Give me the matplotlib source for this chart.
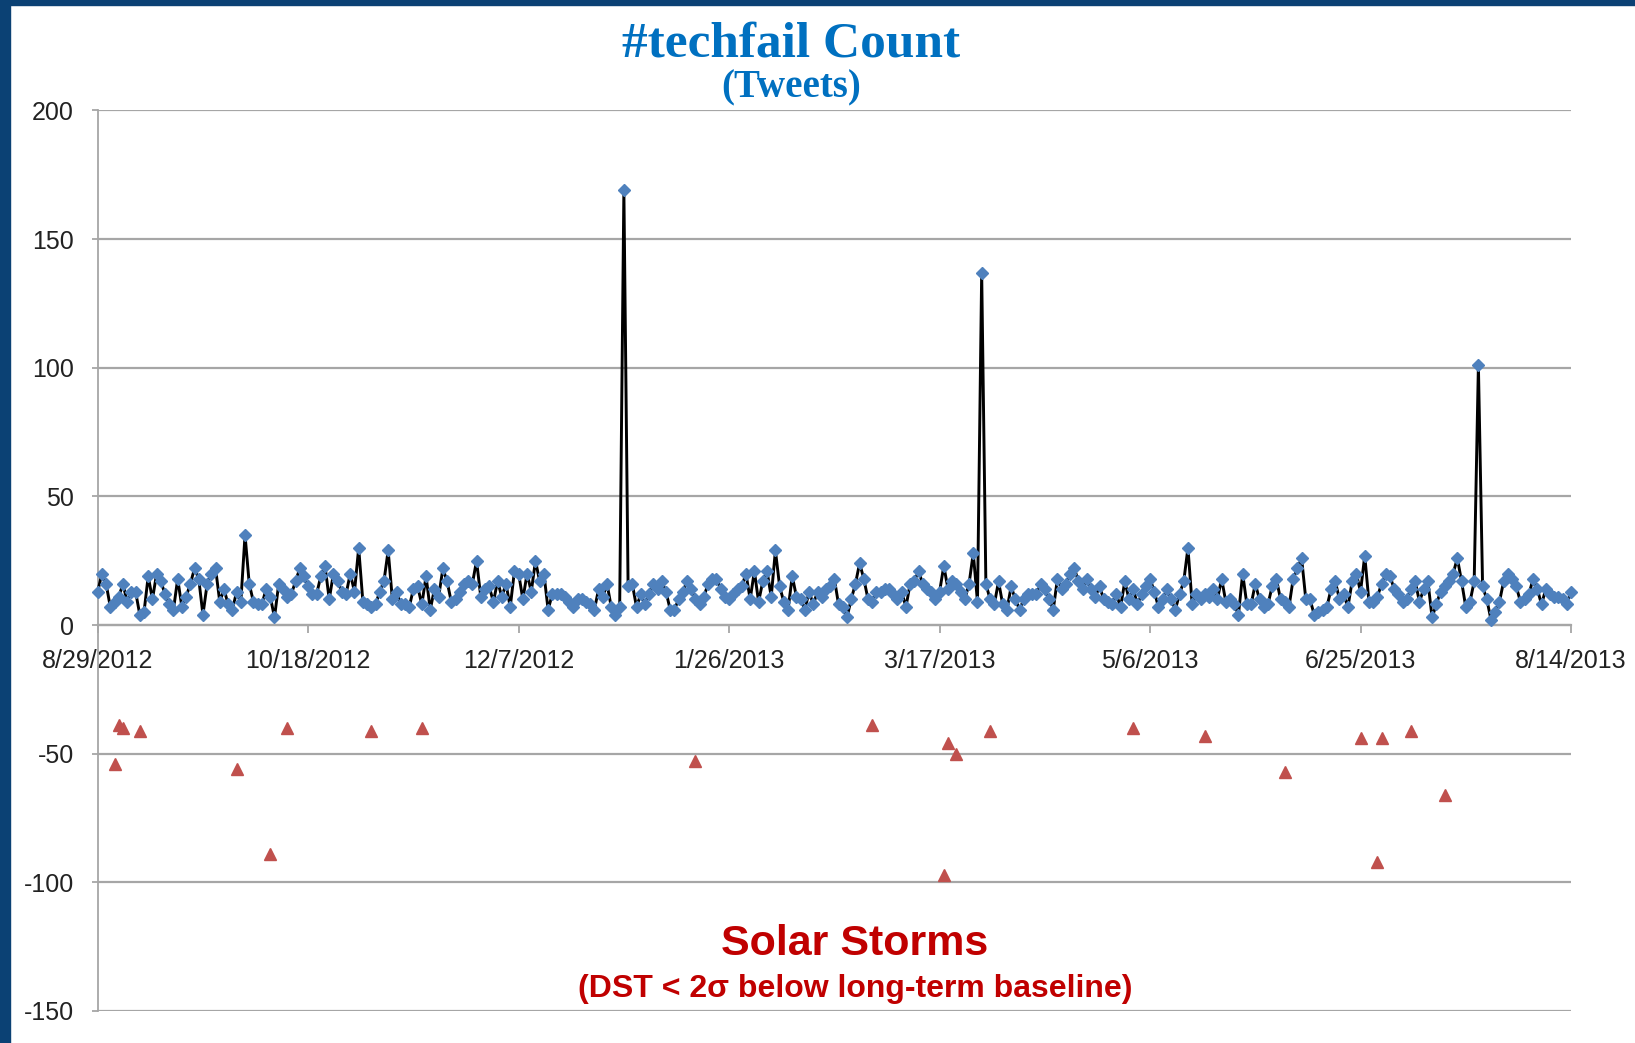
import numpy as np
import pandas as pd
import matplotlib
matplotlib.use("Agg")
import matplotlib.pyplot as plt
from matplotlib.patches import Rectangle

plt.rcParams['axes.unicode_minus'] = False

# daily #techfail tweet counts, 8/29/2012 .. 8/14/2013
tweets = [
    13, 20, 16, 7, 9, 11, 16, 9, 13, 13, 4, 5, 19, 10, 20, 17, 12, 8, 6, 18,
    7, 11, 16, 22, 18, 4, 16, 20, 22, 9, 14, 8, 6, 13, 9, 35, 16, 9, 8, 8,
    14, 11, 3, 16, 14, 11, 12, 17, 22, 19, 15, 12, 12, 19, 23, 10, 20,
    17, 13, 12, 20, 13, 30, 9, 8, 7, 8, 13, 17, 29, 10, 13, 8, 8, 7, 14, 15,
    8, 19, 6, 14, 11, 22, 17, 9, 10, 13, 16, 17, 16, 25, 11, 14, 15, 9, 17, 11,
    16, 7, 21, 20, 10, 20, 13, 25, 17, 20, 6, 12, 12, 12, 11, 9, 7,
    10, 10, 9, 8, 6, 14, 11, 16, 7, 4, 7, 169, 15, 16, 7, 12, 8, 12, 16, 14,
    17, 13, 6, 6, 10, 13, 17, 14, 10, 8, 11, 16, 18, 18, 14, 11, 10, 12, 14, 15,
    20, 10, 21, 9, 17, 21, 11, 29, 15, 9, 6, 19, 11, 10, 6, 13, 8, 13,
    11, 14, 15, 18, 8, 7, 3, 10, 16, 24, 18, 10, 9, 13, 13, 14, 14, 12, 10, 13, 7,
    16, 17, 21, 16, 14, 13, 10, 13, 23, 14, 17, 16, 13, 10, 16, 28, 9, 137, 16, 10,
    8, 17, 8, 6, 15, 10, 6, 10, 12, 12, 12, 16, 14, 10, 6, 18,
    14, 16, 20, 22, 17, 14, 18, 14, 11, 15, 10, 9, 8, 12, 7, 17, 10, 14, 8, 12,
    15, 18, 13, 7, 10, 14, 10, 6, 12, 17, 30, 8, 12, 10, 12, 11, 14, 10, 18, 9,
    10, 8, 4, 20, 8, 8, 16, 10, 7, 8, 15, 18, 10, 9,
    7, 18, 22, 26, 10, 10, 4, 5, 6, 7, 14, 17, 10, 12, 7, 17, 20, 13, 27, 9,
    9, 11, 16, 20, 19, 14, 12, 9, 10, 14, 17, 9, 14, 17, 3, 8, 13, 15, 17, 20,
    26, 17, 7, 9, 17, 101, 15, 10, 2, 5, 9, 17, 20, 18, 15, 9, 10, 12, 18, 14,
    8, 14, 12, 11, 11, 10, 8, 13,
]

# solar storm days (DST index, nT)
storm_dates = ['2012-09-02', '2012-09-03', '2012-09-04', '2012-09-08', '2012-10-01',
               '2012-10-09', '2012-10-13', '2012-11-02', '2012-11-14', '2013-01-18',
               '2013-03-01', '2013-03-18', '2013-03-19', '2013-03-21', '2013-03-29',
               '2013-05-02', '2013-05-19', '2013-06-07', '2013-06-25', '2013-06-29',
               '2013-06-30', '2013-07-07', '2013-07-15']
storm_dst = [-54, -39, -40, -41, -56, -89, -40, -41, -40, -53,
             -39, -97, -46, -50, -41, -40, -43, -57, -44, -92,
             -44, -41, -66]

tick_dates = ['2012-08-29', '2012-10-18', '2012-12-07', '2013-01-26',
              '2013-03-17', '2013-05-06', '2013-06-25', '2013-08-14']

dates = pd.date_range('2012-08-29', periods=len(tweets), freq='D')
storms = pd.to_datetime(storm_dates)
ticks = pd.to_datetime(tick_dates)

fig = plt.figure(figsize=(16.35, 10.43), dpi=100)
fig.patch.set_facecolor('white')

# dark blue slide frame on the left and top
fig.patches.append(Rectangle((0, 0), 10 / 1635, 1, transform=fig.transFigure,
                             color='#0b4174', zorder=10))
fig.patches.append(Rectangle((0, 1 - 5 / 1043), 1, 5 / 1043, transform=fig.transFigure,
                             color='#0b4174', zorder=10))

ax = fig.add_axes([97.7 / 1635, 1 - 1011 / 1043, (1571 - 97.7) / 1635, (1011 - 110.5) / 1043])

ax.plot(dates, tweets, color='black', lw=2.1, marker='D', ms=6.5,
        mfc='#4f81bd', mec='#4f81bd', clip_on=False, zorder=3)
ax.plot(storms, storm_dst, ls='none', marker='^', ms=8,
        mfc='#c0504d', mec='#c0504d', zorder=3)

ax.set_xlim(dates[0], dates[-1])
ax.set_ylim(-150, 200)
ax.set_yticks(np.arange(-150, 201, 50))
ax.set_xticks(ticks)
ax.set_xticklabels([f"{d.month}/{d.day}/{d.year}" for d in ticks])

grid_col = '#a6a6a6'
ax.grid(axis='y', color=grid_col, lw=1.6)
ax.grid(axis='x', visible=False)
ax.set_axisbelow(True)

for s in ['top', 'right']:
    ax.spines[s].set_visible(False)
ax.spines['left'].set_color(grid_col)
ax.spines['left'].set_linewidth(1.3)
ax.spines['bottom'].set_position(('data', 0))
ax.spines['bottom'].set_color(grid_col)
ax.spines['bottom'].set_linewidth(1.6)

ax.tick_params(axis='x', length=6, width=1.3, color=grid_col, pad=11,
               labelsize=18, labelcolor='#222222')
ax.tick_params(axis='y', length=4, width=1.3, color=grid_col, pad=13,
               labelsize=18, labelcolor='#222222')
for lab in ax.get_xticklabels() + ax.get_yticklabels():
    lab.set_fontfamily('Liberation Sans')

fig.text(0.484, 0.957, '#techfail Count', ha='center', va='center',
         fontsize=37, fontweight='bold', family='Liberation Serif', color='#0070c0')
fig.text(0.484, 0.916, '(Tweets)', ha='center', va='center',
         fontsize=28, fontweight='bold', family='Liberation Serif', color='#0070c0')
fig.text(0.523, 0.095, 'Solar Storms', ha='center', va='center',
         fontsize=31, fontweight='bold', family='Liberation Sans', color='#c00000')
fig.text(0.523, 0.052, '(DST < 2σ below long-term baseline)', ha='center', va='center',
         fontsize=23, fontweight='bold', family='Liberation Sans', color='#c00000')

fig.savefig('out.png', dpi=100)
